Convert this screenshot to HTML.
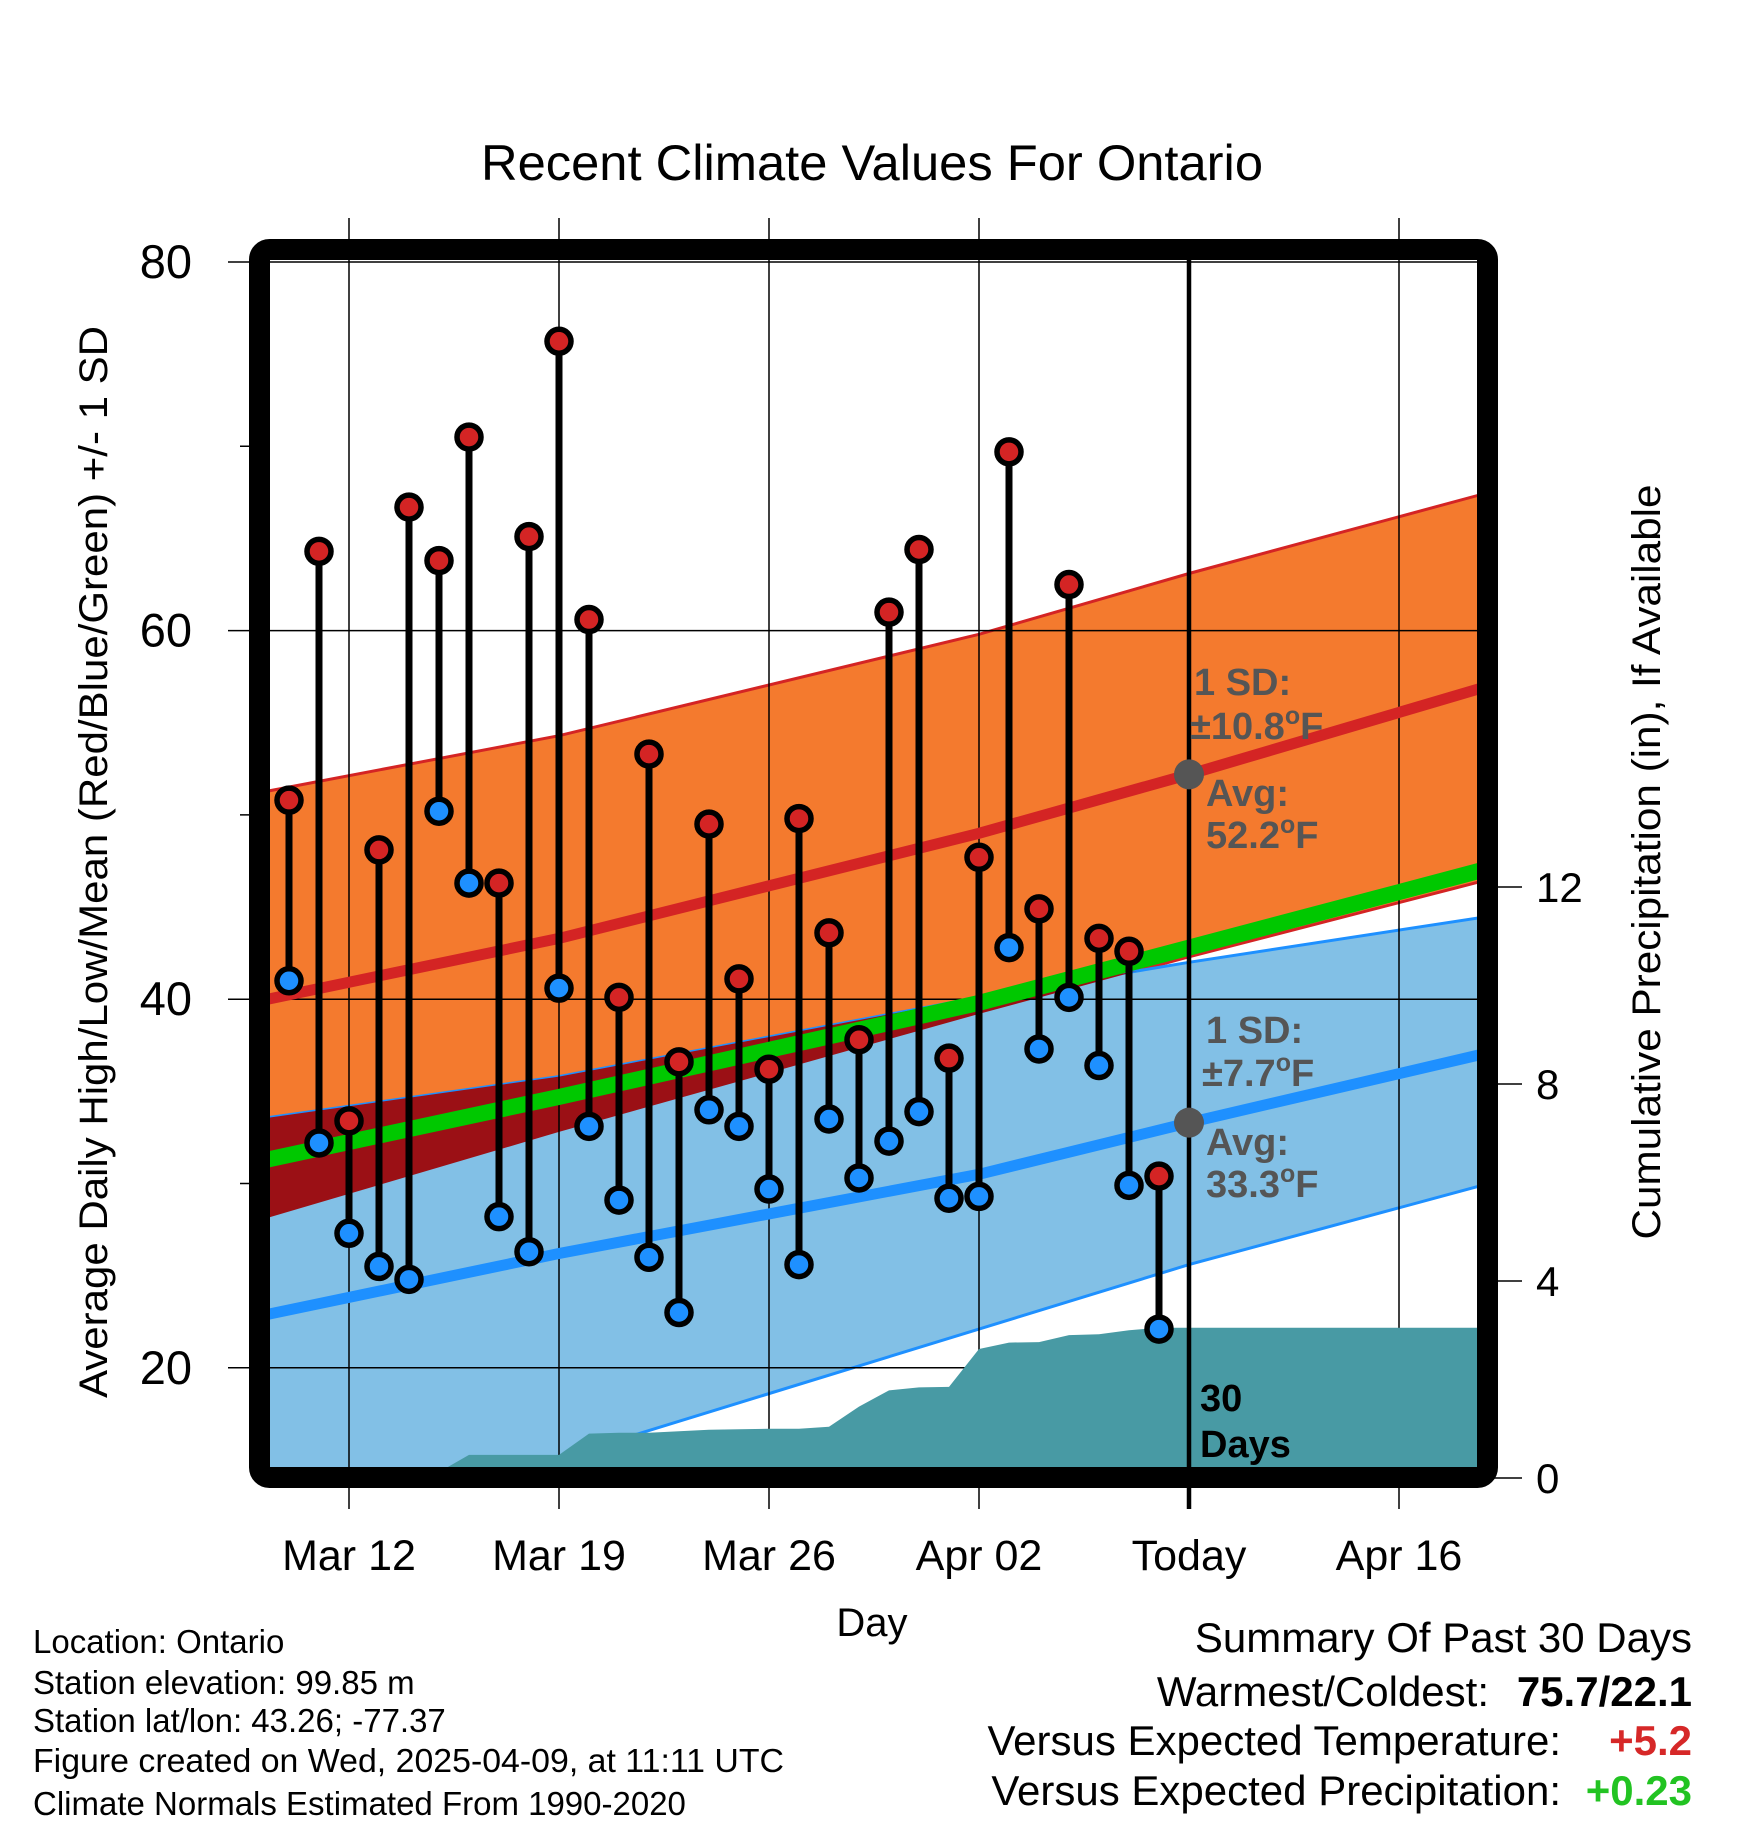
<!DOCTYPE html>
<html><head><meta charset="utf-8"><style>
html,body{margin:0;padding:0;background:#fff}
svg{display:block;font-family:"Liberation Sans",Arial,sans-serif}
</style></head><body>
<svg id="chart" width="1748" height="1828" viewBox="0 0 1748 1828" xmlns="http://www.w3.org/2000/svg">
<defs><clipPath id="plotClip"><rect x="270" y="260" width="1208" height="1207"/></clipPath></defs>
<g id="bands" clip-path="url(#plotClip)"></g>
<g id="grid"></g>
<g id="precip" clip-path="url(#plotClip)"></g>
<g id="lines" clip-path="url(#plotClip)"></g>
<g id="marks"></g>
<rect x="259.5" y="249.5" width="1228" height="1228" rx="10" fill="none" stroke="#000" stroke-width="21"/>
<text x="872" y="180" font-size="50" text-anchor="middle" textLength="782" lengthAdjust="spacingAndGlyphs">Recent Climate Values For Ontario</text>
<text transform="translate(107,862) rotate(-90)" font-size="40" text-anchor="middle" textLength="1072" lengthAdjust="spacingAndGlyphs">Average Daily High/Low/Mean (Red/Blue/Green) +/- 1 SD</text>
<text transform="translate(1660,862) rotate(-90)" font-size="40" text-anchor="middle" textLength="755" lengthAdjust="spacingAndGlyphs">Cumulative Precipitation (in), If Available</text>
<text x="872" y="1636" font-size="40" text-anchor="middle">Day</text>
<g font-size="38" font-weight="bold" fill="#555">
<text x="1194" y="695">1 SD:</text><text x="1190" y="739">±10.8<tspan dy="-15" font-size="25">o</tspan><tspan dy="15">F</tspan></text>
<text x="1206" y="806">Avg:</text><text x="1206" y="848">52.2<tspan dy="-15" font-size="25">o</tspan><tspan dy="15">F</tspan></text>
</g>
<g font-size="38" font-weight="bold" fill="#555">
<text x="1206" y="1043">1 SD:</text><text x="1202" y="1086">±7.7<tspan dy="-15" font-size="25">o</tspan><tspan dy="15">F</tspan></text>
<text x="1206" y="1155">Avg:</text><text x="1206" y="1197">33.3<tspan dy="-15" font-size="25">o</tspan><tspan dy="15">F</tspan></text>
</g>
<g font-size="38" font-weight="bold" fill="#000">
<text x="1200" y="1411">30</text><text x="1200" y="1457">Days</text>
</g>
<g font-size="33" fill="#000">
<text x="33" y="1653">Location: Ontario</text>
<text x="33" y="1694">Station elevation: 99.85 m</text>
<text x="33" y="1732">Station lat/lon: 43.26; -77.37</text>
<text x="33" y="1772" textLength="751" lengthAdjust="spacingAndGlyphs">Figure created on Wed, 2025-04-09, at 11:11 UTC</text>
<text x="33" y="1815">Climate Normals Estimated From 1990-2020</text>
</g>
<g font-size="42" fill="#000">
<text x="1692" y="1652" text-anchor="end">Summary Of Past 30 Days</text>
<text x="1489" y="1706" text-anchor="end">Warmest/Coldest:</text>
<text x="1692" y="1706" text-anchor="end" font-weight="bold">75.7/22.1</text>
<text x="1561" y="1755" text-anchor="end">Versus Expected Temperature:</text>
<text x="1692" y="1755" text-anchor="end" font-weight="bold" fill="#d62828">+5.2</text>
<text x="1561" y="1805" text-anchor="end">Versus Expected Precipitation:</text>
<text x="1692" y="1805" text-anchor="end" font-weight="bold" fill="#22c322">+0.23</text>
</g>
</svg>
<script>
// daily observations, Mar 10 .. Apr 8
const highs = [50.8,64.3,33.4,48.1,66.7,63.8,70.5,46.3,65.1,75.7,60.6,40.1,53.3,36.6,49.5,41.1,36.2,49.8,43.6,37.8,61.0,64.4,36.8,47.7,69.7,44.9,62.5,43.3,42.6,30.4];
const lows = [41.0,32.2,27.3,25.5,24.8,50.2,46.3,28.2,26.3,40.6,33.1,29.1,26.0,23.0,34.0,33.1,29.7,25.6,33.5,30.3,32.3,33.9,29.2,29.3,42.8,37.3,40.1,36.4,29.9,22.1];
const precip = [0,0,0,0,0,0.12,0.47,0.47,0.47,0.47,0.9,0.92,0.92,0.95,0.98,0.99,1.0,1.0,1.04,1.45,1.78,1.84,1.85,2.62,2.75,2.76,2.9,2.92,3.0,3.05];
// climate normals at anchor days (days since Mar 10)
const normDays = [-1,9,23,30,40];
const normHigh = [39.9,43.3,49.0,52.2,57.0];
const highUpper = [51.2,54.3,59.8,63.1,67.5];
const highLower = [28.0,32.8,39.2,42.3,46.5];
const normLow = [22.8,26.2,30.5,33.3,37.1];
const lowUpper = [33.5,35.8,40.1,42.0,44.5];
const lowLower = [10.5,15.1,22.1,25.6,30.0];
const normMean = [31.2,34.7,39.8,42.8,47.1];
const xTickDays = [2,9,16,23,30,37];
const xTickLabels = ["Mar 12","Mar 19","Mar 26","Apr 02","Today","Apr 16"];
const yTicks = [20,40,60,80];
const yMinor = [30,50,70];
const pTicks = [0,4,8,12];
const todayIndex = 30;

const NS="http://www.w3.org/2000/svg";
const xS = d => 289 + 30*d;
const yS = v => 262 + (80-v)*18.43;
const pS = p => 1478 - 49.25*p;
function mk(tag, attrs, parent){const e=document.createElementNS(NS,tag);for(const k in attrs)e.setAttribute(k,attrs[k]);parent.appendChild(e);return e;}
const g = id => document.getElementById(id);
const line = arr => normDays.map((d,i)=>xS(d).toFixed(1)+","+yS(arr[i]).toFixed(1));
const bandPts = (up,lo) => line(up).concat(line(lo).reverse()).join(" ");

let e;
e = mk('polygon',{points:bandPts(highUpper,highLower),fill:'#f47a2e',stroke:'#d42424','stroke-width':3},g('bands'));
 
e = mk('polygon',{points:bandPts(lowUpper,lowLower),fill:'#82c0e6',stroke:'#1e90ff','stroke-width':3},g('bands'));
 
const cp = mk('clipPath',{id:'lowClip'},g('bands'));
mk('polygon',{points:bandPts(lowUpper,lowLower)},cp);
e = mk('polygon',{points:bandPts(highUpper,highLower),fill:'#9b1015','clip-path':'url(#lowClip)'},g('bands'));
 

xTickDays.forEach((d,i)=>{
  const x=xS(d);
  if(i!==4){ e=mk('line',{x1:x,x2:x,y1:218,y2:1509,stroke:'#000','stroke-width':1.5},g('grid'));
      }
  e=mk('text',{x:x,y:1570,'font-size':43,'text-anchor':'middle'},g('grid')); e.textContent=xTickLabels[i];
   
});
yTicks.forEach(v=>{
  const y=yS(v);
  e=mk('line',{x1:228,x2:1478,y1:y,y2:y,stroke:'#000','stroke-width':1.5},g('grid'));
   
  e=mk('text',{x:192,y:y+16,'font-size':47,'text-anchor':'end'},g('grid')); e.textContent=v;
   
});
yMinor.forEach(v=>{
  e=mk('line',{x1:240,x2:260,y1:yS(v),y2:yS(v),stroke:'#000','stroke-width':1.5},g('grid'));
   
});
pTicks.forEach(p=>{
  const y=pS(p);
  e=mk('line',{x1:1488,x2:1522,y1:y,y2:y,stroke:'#000','stroke-width':1.5},g('grid'));
   
  e=mk('text',{x:1536,y:y+15,'font-size':42},g('grid')); e.textContent=p;
   
});

let pp=[xS(0)+","+pS(0)];
precip.forEach((p,i)=>pp.push(xS(i)+","+pS(p)));
pp.push(xS(45)+","+pS(precip[precip.length-1]));
pp.push(xS(45)+","+pS(0));
e=mk('polygon',{points:pp.join(" "),fill:'#489aa4'},g('precip'));
 

e=mk('polyline',{points:line(normMean).join(" "),fill:'none',stroke:'#00c800','stroke-width':16},g('lines'));
 
e=mk('polyline',{points:line(normHigh).join(" "),fill:'none',stroke:'#d42424','stroke-width':11},g('lines'));
 
e=mk('polyline',{points:line(normLow).join(" "),fill:'none',stroke:'#1e90ff','stroke-width':11},g('lines'));
 

const tx=xS(todayIndex);
e=mk('line',{x1:tx,x2:tx,y1:255,y2:1509,stroke:'#000','stroke-width':4.5},g('marks'));
 
e=mk('circle',{cx:tx,cy:yS(normHigh[3]),r:15,fill:'#555'},g('marks'));
 
e=mk('circle',{cx:tx,cy:yS(normLow[3]),r:15,fill:'#555'},g('marks'));
 

highs.forEach((h,i)=>{
  const x=xS(i), l=lows[i];
  e=mk('line',{x1:x,x2:x,y1:yS(h),y2:yS(l),stroke:'#000','stroke-width':7},g('marks'));
   
  e=mk('circle',{cx:x,cy:yS(l),r:12,fill:'#1e90ff',stroke:'#000','stroke-width':5.5},g('marks'));
   
  e=mk('circle',{cx:x,cy:yS(h),r:12,fill:'#d42424',stroke:'#000','stroke-width':5.5},g('marks'));
   
});
</script>
</body></html>
